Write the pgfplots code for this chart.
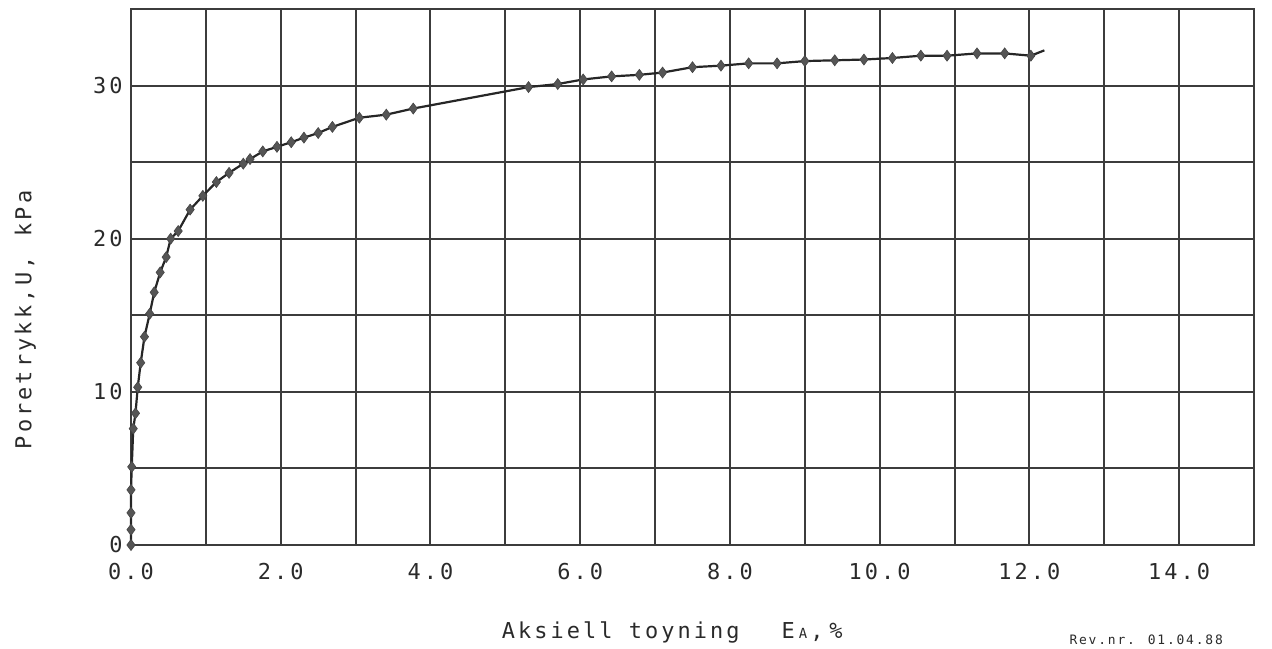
\documentclass[border=0pt]{standalone}
\usepackage{fontspec}
\setmainfont{DejaVu Sans Mono}[LetterSpace=14]
\usepackage{pgfplots}
\pgfplotsset{compat=1.18}
\usepackage{pgfplotstable}

\definecolor{gridc}{HTML}{3C3C3C}
\definecolor{inkc}{HTML}{2A2A2A}
\definecolor{markc}{HTML}{555555}

% Poretrykk vs aksiell toyning
\pgfplotstableread{
ea    u
0.00  0.0
0.00  1.0
0.00  2.1
0.00  3.6
0.01  5.1
0.03  7.6
0.06  8.6
0.09  10.3
0.13  11.9
0.18  13.6
0.25  15.1
0.31  16.5
0.39  17.8
0.47  18.8
0.53  20.0
0.63  20.5
0.79  21.9
0.96  22.8
1.14  23.7
1.31  24.3
1.50  24.9
1.59  25.2
1.76  25.7
1.95  26.0
2.14  26.3
2.31  26.6
2.50  26.9
2.69  27.3
3.05  27.9
3.41  28.1
3.77  28.5
5.31  29.9
5.70  30.1
6.04  30.4
6.42  30.6
6.79  30.7
7.10  30.85
7.50  31.2
7.88  31.3
8.25  31.45
8.63  31.45
9.00  31.6
9.40  31.65
9.79  31.7
10.17 31.8
10.55 31.95
10.90 31.95
11.30 32.1
11.67 32.1
12.02 31.95
12.20 32.3
}\poretrykk

\begin{document}
\begin{tikzpicture}
\fontsize{22}{26}\selectfont
\begin{axis}[
    at={(131bp,104bp)}, anchor=origin,
    scale only axis,
    width=1123bp, height=536bp,
    xmin=0, xmax=15, ymin=0, ymax=35,
    xtick={0,2,...,14},
    minor xtick={1,3,...,15},
    ytick={0,10,20,30},
    minor ytick={5,15,25,35},
    grid=both,
    major grid style={gridc, line width=2bp},
    minor grid style={gridc, line width=2bp},
    axis line style={gridc, line width=2bp},
    major tick length=0pt, minor tick length=0pt,
    tick label style={inkc, font=\fontsize{22}{26}\selectfont},
    /pgf/number format/assume math mode=true,
    xticklabel={\pgfmathprintnumber[fixed, fixed zerofill, precision=1]{\tick}},
    yticklabel={\pgfmathprintnumber[fixed, precision=0]{\tick}},
    xticklabel style={yshift=-11bp},
    yticklabel style={xshift=-1bp},
    xlabel={Aksiell toyning\hspace{42bp}E\hspace{4bp}{\fontsize{14}{14}\selectfont A}\hspace{3bp},\hspace{6bp}\%},
    xlabel style={at={(rel axis cs:0.482,-0.164)}, anchor=center, inkc},
    ylabel={Poretrykk,\,U,\, kPa},
    ylabel style={at={(rel axis cs:-0.094,0.42)}, anchor=center, rotate=0, inkc},
    clip=false,
]
\addplot[black!85, line width=2.2bp, no marks] table[x=ea, y=u] {\poretrykk};
\addplot[only marks, mark=diamond*, mark size=5.5bp,
    mark options={fill=markc, draw=markc!80!black, line width=0.6bp},
    skip coords between index={50}{51}] table[x=ea, y=u] {\poretrykk};
\end{axis}
\node[inkc, anchor=west, font=\fontsize{13}{15}\selectfont] at (1062bp,9bp) {Rev.nr. 01.04.88};
\pgfresetboundingbox
\path[use as bounding box] (0,0) rectangle (1272bp,649bp);
\end{tikzpicture}
\end{document}
